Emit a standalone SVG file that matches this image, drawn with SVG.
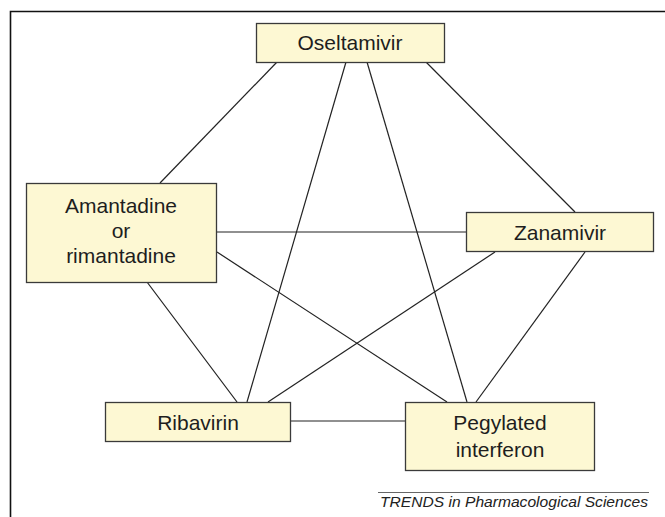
<svg xmlns="http://www.w3.org/2000/svg" width="665" height="517" viewBox="0 0 665 517">
<style>
.box{fill:#fdf8d3;stroke:#3a3a3a;stroke-width:1.3}
.lbl{font-family:"Liberation Sans",Arial,sans-serif;font-size:21px;fill:#1e1e1e;text-anchor:middle}
.edge{stroke:#222;stroke-width:1.2;fill:none}
.frame{stroke:#111;stroke-width:1.6;fill:none}
</style>
<rect width="665" height="517" fill="#fff"/>
<path class="frame" d="M10.5 517 V11.5 H665"/>
<g id="connectors">
<line class="edge" x1="277" y1="62" x2="160" y2="183"/>
<line class="edge" x1="346" y1="62" x2="247" y2="402"/>
<line class="edge" x1="367" y1="62" x2="467" y2="402"/>
<line class="edge" x1="426" y1="62" x2="575" y2="212"/>
<line class="edge" x1="217" y1="232" x2="466" y2="232"/>
<line class="edge" x1="217" y1="252" x2="447" y2="402"/>
<line class="edge" x1="147" y1="282" x2="237" y2="402"/>
<line class="edge" x1="495" y1="252" x2="268" y2="402"/>
<line class="edge" x1="585" y1="252" x2="476" y2="402"/>
<line class="edge" x1="290" y1="421" x2="405" y2="421"/>
</g>
<g id="oseltamivir">
<rect class="box" x="256.5" y="23.5" width="188" height="39"/>
<text class="lbl" x="350" y="50">Oseltamivir</text>
</g>
<g id="amantadine">
<rect class="box" x="26.5" y="183.5" width="190" height="99"/>
<text class="lbl" x="121" y="213">Amantadine</text>
<text class="lbl" x="121" y="238">or</text>
<text class="lbl" x="121" y="263">rimantadine</text>
</g>
<g id="zanamivir">
<rect class="box" x="466.5" y="212.5" width="187" height="39"/>
<text class="lbl" x="560" y="239.5">Zanamivir</text>
</g>
<g id="ribavirin">
<rect class="box" x="105.5" y="402.5" width="185" height="39"/>
<text class="lbl" x="198" y="429.5">Ribavirin</text>
</g>
<g id="pegylated">
<rect class="box" x="405.5" y="402.5" width="189" height="68"/>
<text class="lbl" x="500" y="430">Pegylated</text>
<text class="lbl" x="500" y="457">interferon</text>
</g>
<g id="footer">
<line x1="378" y1="492.5" x2="649" y2="492.5" stroke="#666" stroke-width="1"/>
<text x="380" y="507" font-family="'Liberation Sans',Arial,sans-serif" font-style="italic" font-size="15.5" fill="#222" textLength="268" lengthAdjust="spacingAndGlyphs">TRENDS in Pharmacological Sciences</text>
</g>
</svg>
